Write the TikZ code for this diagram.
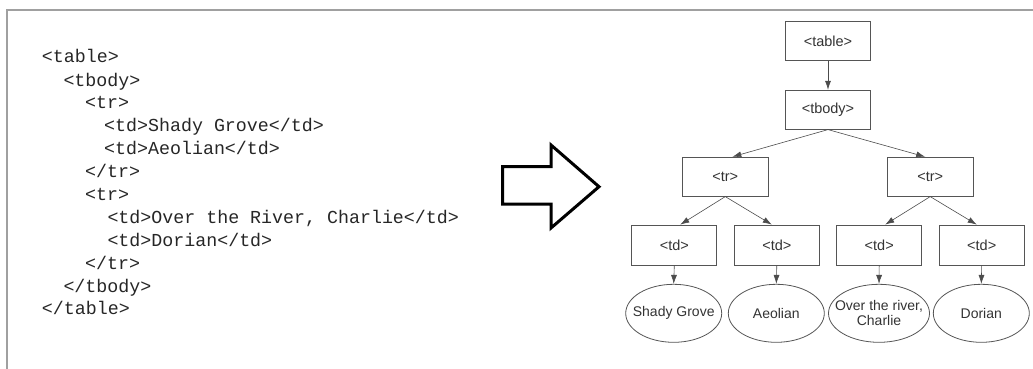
\documentclass[tikz,border=0pt]{standalone}
\usepackage{fontspec}
\setmonofont{Liberation Mono}
\setsansfont{Liberation Sans}
\usetikzlibrary{arrows.meta,shapes.geometric}
\definecolor{framegray}{HTML}{A0A0A0}
\definecolor{boxgray}{HTML}{555555}
\definecolor{txtgray}{HTML}{333333}
\tikzset{
  codeline/.style={anchor=base west, inner sep=0pt, font=\ttfamily\fontsize{18.3}{23}\selectfont, text=black!85},
  tagbox/.style={draw=boxgray, line width=0.8pt, minimum width=85pt, minimum height=39pt, inner sep=0pt, font=\sffamily\fontsize{14.5}{16}\selectfont, text=txtgray},
  leaf/.style={ellipse, draw=boxgray, line width=0.8pt, minimum width=96pt, minimum height=58pt, inner xsep=-14pt, inner ysep=0pt, align=center, font=\sffamily\fontsize{14}{15}\selectfont, text=txtgray},
  edge/.style={draw=black!70, line width=0.6pt, -{Latex[length=9pt,width=6pt]}},
  bigarrow/.style={draw=black, line width=3pt, line join=miter, fill=white}
}
\begin{document}
\begin{tikzpicture}[x=1pt,y=-1pt]
\useasboundingbox (0,0) rectangle (1033,369);
% frame
\draw[framegray, line width=1.5pt] (7,369) -- (7,10) -- (1033,10);
% code
\node[codeline] (c1) at (41.7,63) {<table>};
\node[codeline] (c2) at (63.3,86) {<tbody>};
\node[codeline] (c3) at (85,108.8) {<tr>};
\node[codeline] (c4) at (104,131.7) {<td>Shady Grove</td>};
\node[codeline] (c5) at (104,154.6) {<td>Aeolian</td>};
\node[codeline] (c6) at (85,177.5) {</tr>};
\node[codeline] (c7) at (85,200.4) {<tr>};
\node[codeline] (c8) at (107.3,223.3) {<td>Over the River, Charlie</td>};
\node[codeline] (c9) at (107.3,246.2) {<td>Dorian</td>};
\node[codeline] (c10) at (85,269.1) {</tr>};
\node[codeline] (c11) at (63.3,292) {</tbody>};
\node[codeline] (c12) at (41.7,314.9) {</table>};
% big arrow
\draw[bigarrow] (502.7,166.7) -- (551,166.7) -- (551,145) -- (599,186.7) -- (551,228) -- (551,204) -- (502.7,204) -- cycle;
% tree
\node[tagbox] (table) at (828,41.3) {<table>};
\node[tagbox] (tbody) at (828,109.7) {<tbody>};
\node[tagbox, minimum width=86pt] (trL) at (725.3,176.7) {<tr>};
\node[tagbox, minimum width=86pt] (trR) at (930.2,176.7) {<tr>};
\node[tagbox, minimum height=40pt] (td1) at (674.3,245) {<td>};
\node[tagbox, minimum height=40pt] (td2) at (776.8,245) {<td>};
\node[tagbox, minimum height=40pt] (td3) at (879.2,245) {<td>};
\node[tagbox, minimum height=40pt] (td4) at (981.7,245) {<td>};
\node[leaf] (l1) at (673.7,313.3) {Shady Grove};
\node[leaf] (l2) at (776.3,313.3) {Aeolian};
\node[leaf, minimum width=101pt] (l3) at (879,313.3) {Over the river,\\Charlie};
\node[leaf] (l4) at (981.3,313.3) {Dorian};
\draw[edge] (table.south) -- (tbody.north);
\draw[edge] (tbody.south) -- ([xshift=7pt]trL.north);
\draw[edge] (tbody.south) -- ([xshift=-5pt]trR.north);
\draw[edge] (trL.south) -- ([xshift=6pt]td1.north);
\draw[edge] (trL.south) -- ([xshift=-5pt]td2.north);
\draw[edge] (trR.south) -- ([xshift=6pt]td3.north);
\draw[edge] (trR.south) -- ([xshift=-5pt]td4.north);
\draw[edge] (td1.south) -- (l1.north);
\draw[edge] (td2.south) -- (l2.north);
\draw[edge] (td3.south) -- (l3.north);
\draw[edge] (td4.south) -- (l4.north);
\end{tikzpicture}
\end{document}
